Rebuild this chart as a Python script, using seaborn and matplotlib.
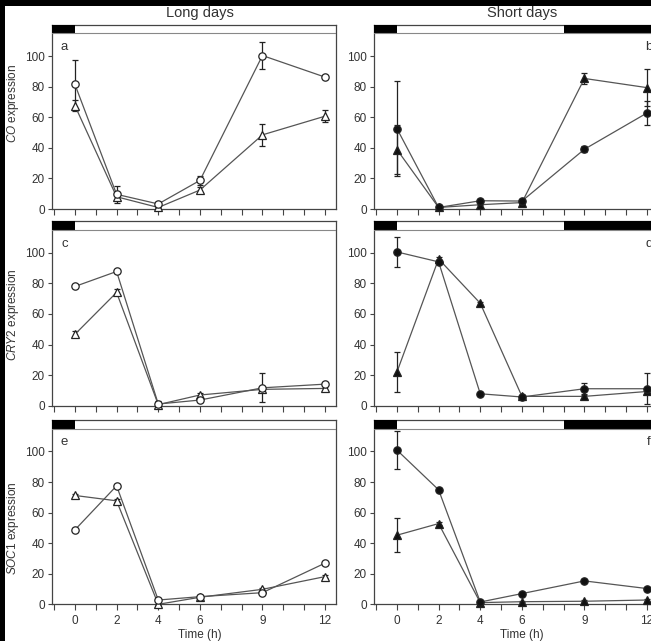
import numpy as np
import pandas as pd
import seaborn as sns
import matplotlib.pyplot as plt
from matplotlib.patches import Rectangle
from matplotlib.transforms import blended_transform_factory

# Data
times = [0, 2, 4, 6, 9, 12]
xtick_labels = ["0", "2", "4", "6", "9", "12"]

# CO - long days (open), short days (filled)
co_ld_circ = [81.5, 9.6, 3.3, 18.7, 100.4, 86.3]
co_ld_circ_err = [16, 5.5, 1, 3, 9, 1]
co_ld_tri = [67.6, 8.0, 1.0, 12.4, 48.5, 60.7]
co_ld_tri_err = [3.5, 2, 0.5, 2, 7, 4]
co_sd_circ = [52.6, 1.0, 5.4, 5.2, 39.1, 62.8]
co_sd_circ_err = [31, 0.5, 1, 1, 2, 7.6]
co_sd_tri = [38.9, 1.0, 2.8, 4.2, 85.4, 79.4]
co_sd_tri_err = [16, 0.5, 0.5, 1, 3.5, 12]

# CRY2
cry_ld_circ = [78.0, 87.8, 1.1, 3.7, 11.7, 14.1]
cry_ld_circ_err = [1, 1, 0.5, 1, 9.5, 1]
cry_ld_tri = [46.7, 74.1, 0.7, 7.0, 10.7, 11.3]
cry_ld_tri_err = [2, 2, 2.5, 1, 1, 2]
cry_sd_circ = [100.6, 94.1, 7.8, 5.7, 11.1, 11.1]
cry_sd_circ_err = [10, 1, 0.5, 1, 3.5, 10]
cry_sd_tri = [22.0, 96.0, 67.0, 6.1, 6.1, 9.3]
cry_sd_tri_err = [13, 1.5, 1, 1, 1, 1]

# SOC1
soc_ld_circ = [48.7, 77.5, 2.8, 5.0, 7.6, 26.9]
soc_ld_circ_err = [1, 1, 0.5, 1, 1, 1]
soc_ld_tri = [71.2, 67.7, 0.0, 4.6, 9.8, 18.1]
soc_ld_tri_err = [1, 1, 0.5, 1, 1, 1]
soc_sd_circ = [100.9, 74.9, 1.5, 7.0, 15.3, 10.3]
soc_sd_circ_err = [12.5, 1, 0.5, 1, 1, 1]
soc_sd_tri = [45.2, 52.8, 1.1, 1.7, 2.0, 2.8]
soc_sd_tri_err = [11, 1, 0.5, 0.5, 0.5, 0.5]

# light regime (dark intervals, h)
ld_dark = [(-1.1, 0)]
sd_dark = [(-1.1, 0), (8, 12.6)]

gene_labels = [r"$\mathit{CO}$ expression", r"$\mathit{CRY2}$ expression",
               r"$\mathit{SOC1}$ expression"]
panel_letters = [["a", "b"], ["c", "d"], ["e", "f"]]

sns.set_style("ticks")
plt.rcParams["font.family"] = ["Liberation Sans", "DejaVu Sans"]
plt.rcParams["mathtext.fontset"] = "custom"
plt.rcParams["mathtext.rm"] = "Liberation Sans"
plt.rcParams["mathtext.it"] = "Liberation Sans:italic"

txt = "#333333"
line_col = "#555555"
XMIN, XMAX = -1.1, 12.53
YTOP, BAR_LO = 120.7, 115.0

fig = plt.figure(figsize=(6.51, 6.41), dpi=100, facecolor="black")
fig.patches.append(Rectangle((5 / 651, 0), 1, 1 - 6 / 641, transform=fig.transFigure,
                             facecolor="white", edgecolor="none", zorder=-10))

lefts = [52 / 651, 374 / 651]
width = 284 / 651
bottoms = [1 - 209 / 641, 1 - 405.7 / 641, 1 - 604.3 / 641]
height = 184.5 / 641
ylabel_y = [0.57, 0.493, 0.41]

series = [
    [(co_ld_circ, co_ld_circ_err, co_ld_tri, co_ld_tri_err),
     (co_sd_circ, co_sd_circ_err, co_sd_tri, co_sd_tri_err)],
    [(cry_ld_circ, cry_ld_circ_err, cry_ld_tri, cry_ld_tri_err),
     (cry_sd_circ, cry_sd_circ_err, cry_sd_tri, cry_sd_tri_err)],
    [(soc_ld_circ, soc_ld_circ_err, soc_ld_tri, soc_ld_tri_err),
     (soc_sd_circ, soc_sd_circ_err, soc_sd_tri, soc_sd_tri_err)],
]


def draw(ax, vals, errs, marker, filled, ms):
    ax.errorbar(times, vals, yerr=errs, fmt="none", ecolor="#222222",
                elinewidth=0.9, capsize=2.5, capthick=0.9, zorder=2, clip_on=False)
    sns.lineplot(x=times, y=vals, ax=ax, color=line_col, linewidth=0.9,
                 marker=marker, markersize=ms,
                 markerfacecolor="#111111" if filled else "white",
                 markeredgecolor="#222222", markeredgewidth=0.9,
                 clip_on=False, zorder=3)


for r in range(3):
    for c in range(2):
        ax = fig.add_axes([lefts[c], bottoms[r], width, height])
        ax.set_facecolor("white")
        circ, circ_err, tri, tri_err = series[r][c]
        filled = c == 1
        draw(ax, tri, tri_err, "^", filled, 6)
        draw(ax, circ, circ_err, "o", filled, 5.3)

        ax.set_xlim(XMIN, XMAX)
        ax.set_ylim(0, YTOP)

        # photoperiod bar
        for a, b in (ld_dark if c == 0 else sd_dark):
            ax.add_patch(Rectangle((a, BAR_LO), b - a, YTOP - BAR_LO,
                                   facecolor="black", edgecolor="none", zorder=4))
        ax.axhline(BAR_LO, color="#888888", lw=0.8, zorder=4)

        for s in ax.spines.values():
            s.set_color("#444444")
            s.set_linewidth(0.9)

        ax.set_xticks(range(-1, 13))
        if r == 2:
            ax.set_xticklabels(["" if t not in times else xtick_labels[times.index(t)]
                                for t in range(-1, 13)])
            ax.set_xlabel("Time (h)", fontsize=8.5, color=txt)
            ax.xaxis.set_label_coords((6 - XMIN) / (XMAX - XMIN), -0.135)
        else:
            ax.set_xticklabels([])
            ax.set_xlabel("")
        ax.set_yticks([0, 20, 40, 60, 80, 100])
        ax.tick_params(axis="x", direction="out", length=4, width=0.8,
                       color="#444444", labelsize=8.5, labelcolor=txt, pad=4)
        ax.tick_params(axis="y", direction="out", length=3, width=0.8,
                       color="#444444", labelsize=8.5, labelcolor=txt, pad=2)

        if c == 0:
            ax.set_ylabel(gene_labels[r], fontsize=8.5, color=txt)
            ax.yaxis.set_label_coords(-0.108, ylabel_y[r])
        else:
            ax.set_ylabel("")

        lx = -0.5 if c == 0 else 12.1
        ax.text(lx, 106, panel_letters[r][c], fontsize=9.5, color=txt,
                ha="center", va="center", clip_on=False)

        if r == 0:
            tr = blended_transform_factory(ax.transData, ax.transAxes)
            ax.text(6, 1.065, "Long days" if c == 0 else "Short days",
                    transform=tr, fontsize=10.5, color=txt, ha="center", va="center")

fig.savefig("out.png", dpi=100, facecolor=fig.get_facecolor())
